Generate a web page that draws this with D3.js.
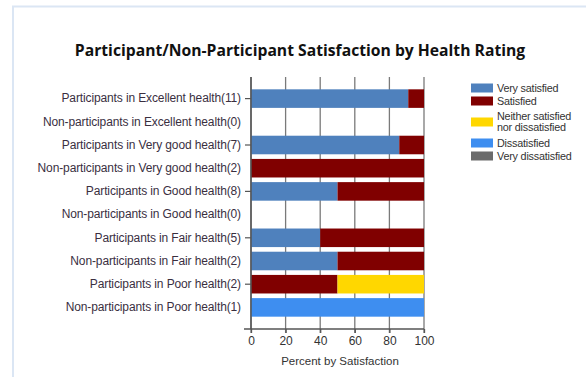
<!DOCTYPE html>
<html><head><meta charset="utf-8">
<script src="https://cdn.jsdelivr.net/npm/d3@7"></script>
<style>
html,body{margin:0;padding:0;background:#fff;}
svg{display:block;}
text{font-family:"Liberation Sans",Arial,sans-serif;}
</style></head>
<body><svg id="c" width="586" height="377"></svg>
<script>
const categories = [
  "Participants in Excellent health(11)",
  "Non-participants in Excellent health(0)",
  "Participants in Very good health(7)",
  "Non-participants in Very good health(2)",
  "Participants in Good health(8)",
  "Non-participants in Good health(0)",
  "Participants in Fair health(5)",
  "Non-participants in Fair health(2)",
  "Participants in Poor health(2)",
  "Non-participants in Poor health(1)"
];
const seriesNames = ["Very satisfied","Satisfied","Neither satisfied nor dissatisfied","Dissatisfied","Very dissatisfied"];
const verySatisfied    = [90.9, 0, 85.7, 0,   50, 0, 40, 50, 0,  0];
const satisfied        = [9.1,  0, 14.3, 100, 50, 0, 60, 50, 50, 0];
const neither          = [0,    0, 0,    0,   0,  0, 0,  0,  50, 0];
const dissatisfied     = [0,    0, 0,    0,   0,  0, 0,  0,  0,  100];
const veryDissatisfied = [0,    0, 0,    0,   0,  0, 0,  0,  0,  0];
const xTicks = [0,20,40,60,80,100];
const colors = ["#4f81bd","#800000","#ffd700","#3e8ef0","#6b6b6b"];

(function(){
const svg = d3.select("#c");
svg.append("path").attr("d","M13,377 V6.5 H586").attr("fill","none").attr("stroke","#dbe6f4").attr("stroke-width",2);

svg.append("text").attr("x",300).attr("y",56).attr("text-anchor","middle")
  .style("font-family","'Open Sans',sans-serif").style("font-weight","bold").style("font-size","15.7px").attr("fill","#111")
  .text("Participant/Non-Participant Satisfaction by Health Rating");

const pL=251, pR=424, pT=77, pB=329;
const x = d3.scaleLinear().domain([0,100]).range([pL,pR]);
const y = d3.scaleBand().domain(categories).range([pT+10,pB-10]).paddingInner(0.2).paddingOuter(0.1);

svg.append("g").selectAll("line").data(xTicks).join("line")
  .attr("x1",d=>x(d)).attr("x2",d=>x(d)).attr("y1",pT).attr("y2",pB+4)
  .attr("stroke","#7a7a7a").attr("stroke-width",1.3);

const rows = categories.map((c,i)=>({c, vals:[verySatisfied[i],satisfied[i],neither[i],dissatisfied[i],veryDissatisfied[i]]}));
const stack = d3.stack().keys([0,1,2,3,4]).value((d,k)=>d.vals[k])(rows);
stack.forEach((layer,k)=>{
  svg.append("g").selectAll("rect").data(layer.filter(d=>d[1]-d[0]>0)).join("rect")
    .attr("x",d=>x(d[0])).attr("width",d=>x(d[1])-x(d[0]))
    .attr("y",d=>y(d.data.c)).attr("height",y.bandwidth())
    .attr("fill",colors[k]);
});

const xAxis = svg.append("g").attr("transform",`translate(0,${pB})`)
  .call(d3.axisBottom(x).tickValues(xTicks).tickSize(4).tickPadding(3));
xAxis.select(".domain").remove();
xAxis.selectAll("line").attr("stroke","#555").attr("stroke-width",1.3);
xAxis.selectAll("text").style("font-size","12px").attr("fill","#333");
svg.append("line").attr("x1",244).attr("x2",pR).attr("y1",pB).attr("y2",pB).attr("stroke","#555").attr("stroke-width",1.3);
svg.append("line").attr("x1",pL).attr("x2",pL).attr("y1",pT).attr("y2",pB).attr("stroke","#555").attr("stroke-width",1.5);

const yAxis = svg.append("g").attr("transform",`translate(${pL},0)`)
  .call(d3.axisLeft(y).tickSize(0).tickPadding(10));
yAxis.select(".domain").remove();
yAxis.selectAll("text").style("font-size","12px").attr("fill","#3a2f3f").attr("letter-spacing","-0.12px");
svg.append("g").selectAll("line").data(categories.filter((d,i)=>i%2===0)).join("line")
  .attr("x1",pL-6).attr("x2",pL).attr("y1",d=>y(d)+y.bandwidth()/2).attr("y2",d=>y(d)+y.bandwidth()/2)
  .attr("stroke","#555").attr("stroke-width",1.2);

svg.append("text").attr("x",340).attr("y",365).attr("text-anchor","middle")
  .style("font-size","11.5px").attr("fill","#333").text("Percent by Satisfaction");

const legendY = [88,101,122,143,156];
const legendLines = [["Very satisfied"],["Satisfied"],["Neither satisfied","nor dissatisfied"],["Dissatisfied"],["Very dissatisfied"]];
const lg = svg.append("g");
seriesNames.forEach((n,i)=>{
  lg.append("rect").attr("x",471).attr("y",legendY[i]-4.5).attr("width",22).attr("height",9).attr("fill",colors[i]);
  const t = lg.append("text").style("font-size","10.8px").attr("fill","#333").attr("letter-spacing","-0.2px");
  const lines = legendLines[i];
  const y0 = legendY[i] - (lines.length-1)*5.5 + 3.8;
  lines.forEach((l,j)=>t.append("tspan").attr("x",497).attr("y",y0+j*11).text(l));
});
})();
</script></body></html>
